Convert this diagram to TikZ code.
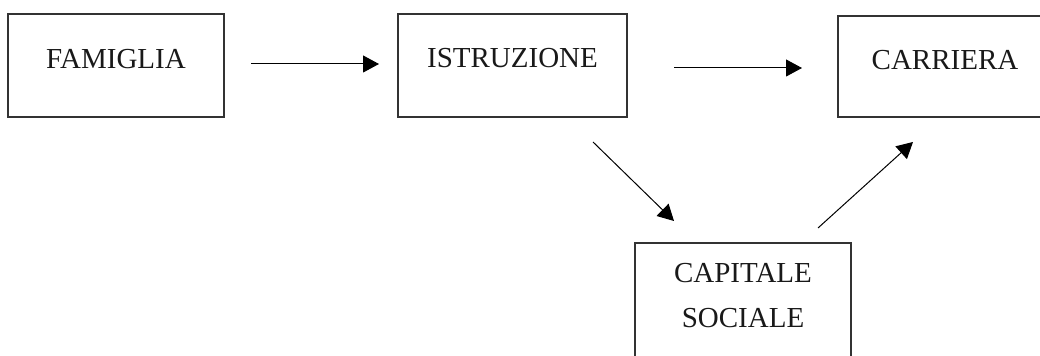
\documentclass[tikz,border=0pt]{standalone}
\usepackage{fontspec}
\setmainfont{Liberation Serif}
\usetikzlibrary{arrows.meta}

\begin{document}
\begin{tikzpicture}[x=0.5pt,y=-0.5pt]
\tikzset{box/.style = {shape=rectangle,draw=black!80,line width=0.55pt,inner sep=0pt}}
\tikzset{lbl/.style = {inner sep=0pt,anchor=base,align=center,text=black!90,font=\fontsize{14.5}{22.5}\selectfont}}
\tikzset{edge/.style = {-{Triangle[length=8pt,width=8.5pt]},line width=0.5pt}}
\useasboundingbox (0,0) rectangle (1040,356);
\clip (0,0) rectangle (1040,356);
% boxes
\node[box,minimum width=108pt,minimum height=51.5pt] (fam) at (116,65.5) {};
\node[box,minimum width=114.5pt,minimum height=51.5pt] (istr) at (512.5,65.5) {};
\node[box,minimum width=107pt,minimum height=50.5pt] (carr) at (945,66.5) {};
\node[box,minimum width=108pt,minimum height=75pt] (cap) at (743,318) {};
% texts
\node[lbl] (famtxt) at ([yshift=-27.5pt]fam.north) {FAMIGLIA};
\node[lbl] (istrtxt) at ([yshift=-27pt]istr.north) {ISTRUZIONE};
\node[lbl] (carrtxt) at ([yshift=-27pt]carr.north) {CARRIERA};
\node[lbl] (captxt) at ([yshift=-42.5pt]cap.north) {CAPITALE\\SOCIALE};
% arrow ends
\coordinate (a1s) at (251,64);  \coordinate (a1e) at (379,64);
\coordinate (a2s) at (674,68);  \coordinate (a2e) at (802,68);
\coordinate (a3s) at (593,142); \coordinate (a3e) at (674,221);
\coordinate (a4s) at (818,228); \coordinate (a4e) at (913,142);

\draw [edge] (a1s) to (a1e);
\draw [edge] (a2s) to (a2e);
\draw [edge] (a3s) to (a3e);
\draw [edge] (a4s) to (a4e);

\end{tikzpicture}
\end{document}
